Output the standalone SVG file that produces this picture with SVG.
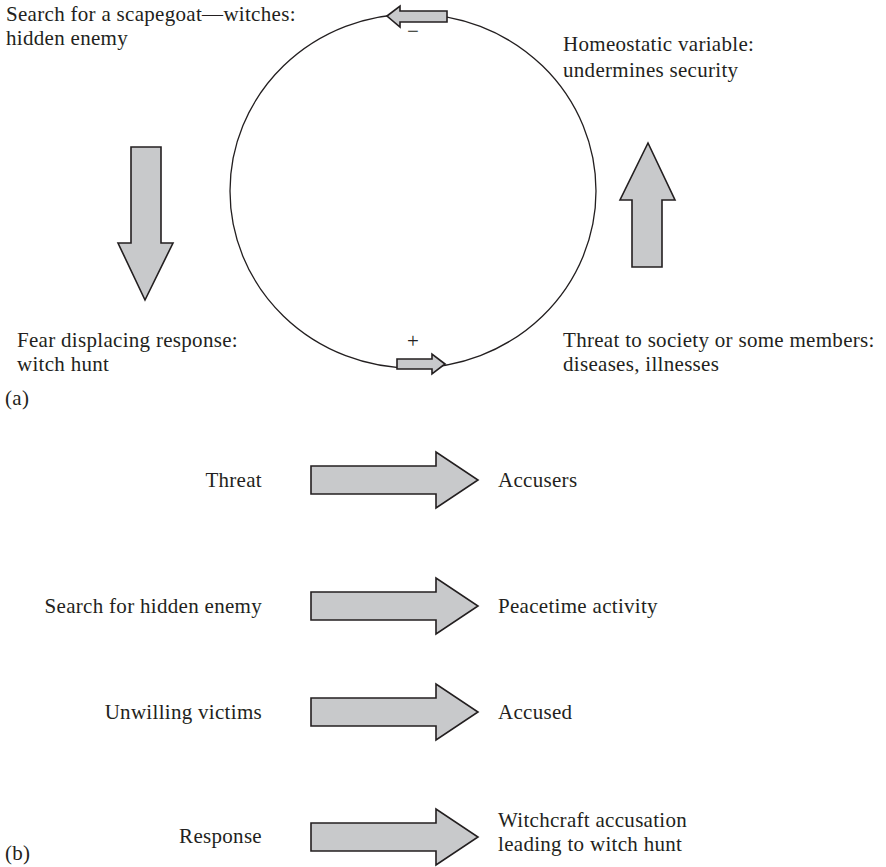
<svg xmlns="http://www.w3.org/2000/svg" width="886" height="867" viewBox="0 0 886 867">
<style>
text{font-family:"Liberation Serif","Times New Roman",serif;font-size:21px;letter-spacing:0.3px;fill:#231f20}
.r{text-anchor:end}
.arr{fill:#c8c9cb;stroke:#231f20;stroke-width:1.6;stroke-linejoin:miter}
.loop{fill:none;stroke:#231f20;stroke-width:1.3}
</style>
<rect width="886" height="867" fill="#fff"/>
<g id="connectors">
<ellipse class="loop" cx="413" cy="191" rx="183" ry="177"/>
<path class="arr" d="M387,16 L400,6 L400,11 L447,11 L447,22 L400,22 L400,27 Z"/>
<path class="arr" d="M445,364 L432,354 L432,359 L397,359 L397,369 L432,369 L432,374 Z"/>
<path class="arr" d="M131,147 L161,147 L161,243 L173,243 L145,300 L118,243 L131,243 Z"/>
<path class="arr" d="M632,267 L662,267 L662,200 L675,200 L648,143 L620,200 L632,200 Z"/>
<path class="arr" d="M311,466 L436,466 L436,452 L478,480 L436,508 L436,494 L311,494 Z"/>
<path class="arr" d="M311,592 L436,592 L436,578 L478,606 L436,634 L436,620 L311,620 Z"/>
<path class="arr" d="M311,698 L436,698 L436,684 L478,712 L436,740 L436,726 L311,726 Z"/>
<path class="arr" d="M311,823 L436,823 L436,809 L478,837 L436,865 L436,851 L311,851 Z"/>
</g>
<g id="sign-minus"><text x="413" y="38" text-anchor="middle">−</text></g>
<g id="sign-plus"><text x="413" y="348" text-anchor="middle">+</text></g>
<g id="scapegoat"><text x="6" y="21">Search for a scapegoat—witches:</text><text x="6" y="45">hidden enemy</text></g>
<g id="homeostatic"><text x="563" y="51">Homeostatic variable:</text><text x="563" y="77">undermines security</text></g>
<g id="fear"><text x="17" y="347">Fear displacing response:</text><text x="17" y="371">witch hunt</text></g>
<g id="threat-society"><text x="563" y="347">Threat to society or some members:</text><text x="563" y="371">diseases, illnesses</text></g>
<g id="label-a"><text x="5" y="405">(a)</text></g>
<g id="threat"><text class="r" x="262" y="487">Threat</text></g>
<g id="accusers"><text x="498" y="487">Accusers</text></g>
<g id="search"><text class="r" x="262" y="613">Search for hidden enemy</text></g>
<g id="peacetime"><text x="498" y="613">Peacetime activity</text></g>
<g id="unwilling"><text class="r" x="262" y="719">Unwilling victims</text></g>
<g id="accused"><text x="498" y="719">Accused</text></g>
<g id="response"><text class="r" x="262" y="843">Response</text></g>
<g id="witchcraft"><text x="498" y="827">Witchcraft accusation</text><text x="498" y="851">leading to witch hunt</text></g>
<g id="label-b"><text x="5" y="860">(b)</text></g>
</svg>
